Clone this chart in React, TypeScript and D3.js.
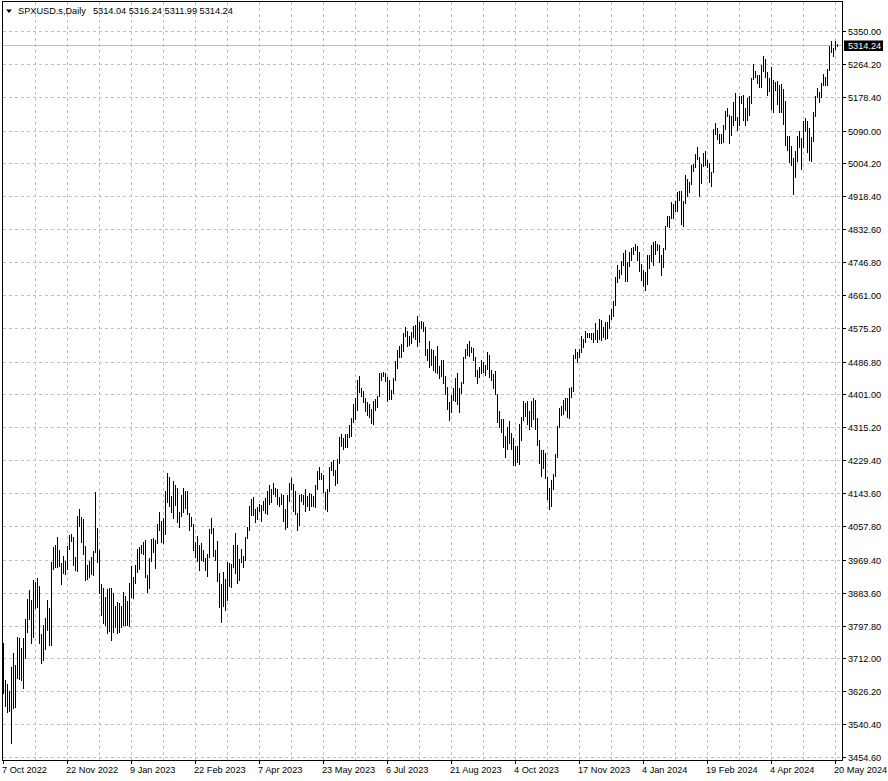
import { useEffect, useRef } from "react"
import * as d3 from "d3"

const WIDTH = 888
const HEIGHT = 781
const FRAME = { left: 2, top: 1, right: 842, bottom: 760 }
const FONT = "'Liberation Sans', Arial, sans-serif"

const symbolTitle = "SPXUSD.s,Daily"
// open, high, low, close of the last bar
const lastBarOHLC = [5314.04, 5316.24, 5311.99, 5314.24]

const priceTicks = [
  5350.0, 5264.2, 5178.4, 5090.0, 5004.2, 4918.4, 4832.6, 4746.8, 4661.0, 4575.2, 4486.8, 4401.0,
  4315.2, 4229.4, 4143.6, 4057.8, 3969.4, 3883.6, 3797.8, 3712.0, 3626.2, 3540.4, 3454.6,
]

const dateLabels = [
  "7 Oct 2022", "22 Nov 2022", "9 Jan 2023", "22 Feb 2023", "7 Apr 2023", "23 May 2023", "6 Jul 2023",
  "21 Aug 2023", "4 Oct 2023", "17 Nov 2023", "4 Jan 2024", "19 Feb 2024", "4 Apr 2024", "20 May 2024",
]

// daily highs, oldest first
const highs = [
  3752, 3656, 3645, 3627, 3690, 3726, 3695, 3768, 3765, 3739,
  3765, 3815, 3867, 3891, 3864, 3917, 3912, 3922, 3901, 3776,
  3799, 3818, 3864, 3844, 3965, 4002, 4008, 4030, 3995, 3962,
  3980, 3966, 4006, 4034, 4038, 4030, 3976, 4083, 4101, 4080,
  4075, 4005, 3957, 3967, 3978, 3992, 4146, 4053, 3995, 3906,
  3896, 3872, 3893, 3896, 3896, 3883, 3849, 3859, 3857, 3849,
  3886, 3875, 3862, 3909, 3953, 3925, 3956, 3997, 4004, 4008,
  4016, 4021, 3930, 3974, 4024, 4026, 4021, 4062, 4095, 4072,
  4078, 4148, 4195, 4185, 4136, 4176, 4165, 4156, 4094, 4138,
  4156, 4149, 4148, 4092, 4082, 4062, 4017, 4032, 4008, 4012,
  3994, 3975, 3985, 4049, 4079, 4052, 3994, 4018, 3935, 3905,
  3937, 3920, 3965, 3962, 3958, 4009, 4039, 4008, 3972, 3998,
  3980, 4030, 4056, 4110, 4128, 4134, 4101, 4108, 4115, 4112,
  4124, 4132, 4150, 4164, 4153, 4170, 4158, 4154, 4134, 4142,
  4138, 4103, 4138, 4170, 4184, 4168, 4148, 4092, 4138, 4142,
  4138, 4154, 4137, 4143, 4141, 4137, 4164, 4202, 4212, 4197,
  4192, 4146, 4154, 4212, 4225, 4231, 4205, 4232, 4290, 4299,
  4288, 4299, 4298, 4322, 4339, 4375, 4391, 4439, 4448, 4418,
  4410, 4392, 4382, 4375, 4362, 4384, 4390, 4398, 4458, 4458,
  4460, 4456, 4446, 4440, 4412, 4443, 4488, 4517, 4528, 4532,
  4562, 4578, 4568, 4555, 4564, 4580, 4582, 4607, 4590, 4594,
  4590, 4577, 4519, 4540, 4519, 4518, 4502, 4527, 4476, 4490,
  4490, 4449, 4421, 4381, 4400, 4419, 4443, 4458, 4418, 4434,
  4500, 4521, 4532, 4541, 4525, 4522, 4498, 4465, 4473, 4490,
  4487, 4479, 4511, 4505, 4466, 4455, 4462, 4402, 4357, 4338,
  4337, 4292, 4317, 4333, 4300, 4288, 4267, 4267, 4324, 4341,
  4385, 4378, 4385, 4357, 4383, 4393, 4387, 4339, 4283, 4255,
  4255, 4248, 4186, 4156, 4177, 4194, 4245, 4319, 4366, 4372,
  4386, 4391, 4393, 4418, 4421, 4503, 4521, 4511, 4521, 4553,
  4547, 4568, 4562, 4562, 4561, 4562, 4587, 4569, 4599, 4595,
  4578, 4591, 4591, 4609, 4623, 4645, 4709, 4738, 4725, 4749,
  4770, 4778, 4748, 4772, 4784, 4785, 4793, 4788, 4772, 4743,
  4727, 4721, 4764, 4765, 4790, 4798, 4803, 4795, 4790, 4766,
  4783, 4842, 4868, 4866, 4903, 4898, 4906, 4929, 4932, 4931,
  4906, 4975, 4963, 4957, 4999, 5002, 5030, 5048, 5022, 5002,
  5032, 5038, 5012, 5006, 4983, 5094, 5111, 5097, 5080, 5080,
  5104, 5140, 5149, 5131, 5127, 5165, 5189, 5125, 5179, 5180,
  5182, 5150, 5175, 5179, 5226, 5265, 5246, 5234, 5236, 5262,
  5284, 5278, 5243, 5228, 5256, 5222, 5216, 5220, 5209, 5211,
  5199, 5168, 5076, 5077, 5049, 5019, 5038, 5076, 5089, 5071,
  5114, 5123, 5116, 5096, 5073, 5139, 5181, 5200, 5191, 5214,
  5239, 5230, 5250, 5311, 5325, 5305, 5325, 5316.24,
]

// daily lows, oldest first
const lows = [
  3622, 3588, 3572, 3575, 3491, 3583, 3585, 3661, 3658, 3656,
  3635, 3713, 3781, 3815, 3752, 3768, 3844, 3846, 3752, 3700,
  3708, 3737, 3786, 3747, 3747, 3946, 3950, 3950, 3952, 3906,
  3935, 3932, 3945, 3998, 4018, 3955, 3944, 3940, 4057, 4015,
  3984, 3918, 3920, 3925, 3932, 3930, 3990, 3965, 3883, 3825,
  3805, 3799, 3778, 3783, 3760, 3781, 3794, 3778, 3781, 3794,
  3799, 3799, 3799, 3797, 3872, 3870, 3909, 3937, 3946, 3988,
  3984, 3925, 3886, 3896, 3966, 3990, 3949, 4012, 4048, 4015,
  4012, 4037, 4120, 4111, 4093, 4079, 4112, 4069, 4055, 4085,
  4095, 4105, 4089, 4047, 4058, 3995, 3976, 3966, 3944, 3970,
  3966, 3943, 3928, 3978, 4040, 3980, 3968, 3914, 3847, 3808,
  3850, 3839, 3864, 3901, 3898, 3950, 3936, 3909, 3917, 3965,
  3951, 3970, 4027, 4048, 4086, 4086, 4069, 4076, 4098, 4072,
  4100, 4091, 4090, 4114, 4120, 4140, 4135, 4114, 4110, 4115,
  4071, 4049, 4055, 4123, 4155, 4098, 4088, 4048, 4060, 4123,
  4116, 4098, 4109, 4099, 4110, 4109, 4108, 4153, 4180, 4180,
  4146, 4103, 4098, 4148, 4205, 4192, 4166, 4171, 4221, 4266,
  4260, 4264, 4264, 4291, 4292, 4330, 4337, 4360, 4407, 4398,
  4382, 4357, 4347, 4341, 4326, 4325, 4360, 4368, 4396, 4440,
  4448, 4436, 4385, 4390, 4389, 4405, 4438, 4470, 4498, 4500,
  4514, 4553, 4527, 4530, 4535, 4550, 4547, 4528, 4537, 4574,
  4567, 4505, 4490, 4474, 4478, 4464, 4461, 4457, 4443, 4450,
  4432, 4403, 4364, 4335, 4355, 4386, 4385, 4375, 4356, 4405,
  4431, 4496, 4505, 4501, 4512, 4492, 4448, 4430, 4446, 4457,
  4459, 4453, 4467, 4447, 4440, 4417, 4401, 4329, 4316, 4303,
  4265, 4238, 4260, 4274, 4260, 4216, 4216, 4225, 4219, 4283,
  4335, 4345, 4325, 4311, 4318, 4337, 4311, 4269, 4223, 4189,
  4210, 4182, 4127, 4103, 4110, 4153, 4187, 4237, 4317, 4347,
  4350, 4360, 4343, 4340, 4394, 4410, 4495, 4487, 4499, 4511,
  4525, 4537, 4551, 4550, 4545, 4537, 4547, 4537, 4546, 4544,
  4552, 4546, 4549, 4574, 4598, 4606, 4634, 4694, 4704, 4715,
  4738, 4697, 4698, 4736, 4752, 4768, 4778, 4751, 4723, 4700,
  4683, 4675, 4690, 4730, 4750, 4740, 4768, 4778, 4748, 4714,
  4735, 4780, 4840, 4838, 4862, 4862, 4881, 4880, 4910, 4845,
  4840, 4900, 4918, 4930, 4950, 4985, 4995, 5016, 4920, 4953,
  4998, 4999, 4995, 4955, 4946, 4982, 5081, 5068, 5057, 5058,
  5061, 5094, 5127, 5057, 5079, 5105, 5117, 5092, 5105, 5161,
  5118, 5104, 5117, 5131, 5161, 5225, 5229, 5214, 5203, 5203,
  5245, 5229, 5184, 5194, 5146, 5138, 5197, 5160, 5138, 5138,
  5107, 5052, 5039, 5007, 5001, 4925, 4969, 5010, 5048, 4990,
  5048, 5089, 5035, 5013, 5011, 5064, 5128, 5178, 5165, 5177,
  5210, 5208, 5209, 5247, 5296, 5284, 5302, 5311.99,
]

const BARS_PER_LABEL = 32
const BARS_PER_GRID = 16

export default function App() {
  const svgRef = useRef<SVGSVGElement>(null)

  useEffect(() => {
    document.body.style.margin = "0"
    if (!svgRef.current) return
    const svg = d3.select(svgRef.current)
    svg.selectAll("*").remove()

    const n = highs.length
    const x = d3.scaleLinear().domain([0, n - 1]).range([3, 3 + 2 * (n - 1)])
    const y = d3
      .scaleLinear()
      .domain([priceTicks[priceTicks.length - 1], priceTicks[0]])
      .range([757, 31])
    const py = (v: number) => Math.round(y(v))

    svg.append("rect").attr("width", WIDTH).attr("height", HEIGHT).attr("fill", "#fff")

    // grid
    const grid = svg.append("g").attr("stroke", "#c0c0c0").attr("stroke-dasharray", "3,3").attr("shape-rendering", "crispEdges")
    priceTicks.forEach((p) => {
      grid.append("line")
        .attr("x1", FRAME.left + 1).attr("x2", FRAME.right)
        .attr("y1", py(p) + 0.5).attr("y2", py(p) + 0.5)
    })
    for (let i = BARS_PER_GRID; i < n; i += BARS_PER_GRID) {
      grid.append("line")
        .attr("x1", x(i) + 0.5).attr("x2", x(i) + 0.5)
        .attr("y1", FRAME.top + 1).attr("y2", FRAME.bottom)
    }

    // bid line
    const lastPrice = lastBarOHLC[3]
    svg.append("line")
      .attr("x1", FRAME.left).attr("x2", FRAME.right)
      .attr("y1", py(lastPrice) + 0.5).attr("y2", py(lastPrice) + 0.5)
      .attr("stroke", "#c0c0c0").attr("shape-rendering", "crispEdges")

    // bars
    svg.append("g")
      .attr("fill", "#000")
      .attr("shape-rendering", "crispEdges")
      .selectAll("rect")
      .data(highs.map((h, i) => ({ h, l: lows[i], i })))
      .join("rect")
      .attr("x", (d) => x(d.i))
      .attr("width", 1)
      .attr("y", (d) => py(d.h))
      .attr("height", (d) => Math.max(1, py(d.l) - py(d.h) + 1))

    // frame
    const frame = svg.append("g").attr("stroke", "#000").attr("shape-rendering", "crispEdges")
    frame.append("line").attr("x1", FRAME.left + 0.5).attr("x2", FRAME.left + 0.5).attr("y1", FRAME.top).attr("y2", FRAME.bottom + 1)
    frame.append("line").attr("x1", FRAME.left).attr("x2", FRAME.right + 1).attr("y1", FRAME.top + 0.5).attr("y2", FRAME.top + 0.5)
    frame.append("line").attr("x1", FRAME.right + 0.5).attr("x2", FRAME.right + 0.5).attr("y1", FRAME.top).attr("y2", FRAME.bottom + 1)
    frame.append("line").attr("x1", FRAME.left).attr("x2", FRAME.right + 1).attr("y1", FRAME.bottom + 0.5).attr("y2", FRAME.bottom + 0.5)

    // price scale
    const priceAxis = svg.append("g").attr("font-family", FONT).attr("font-size", "9.2px")
    priceTicks.forEach((p) => {
      priceAxis.append("line")
        .attr("x1", FRAME.right).attr("x2", FRAME.right + 4)
        .attr("y1", py(p) + 0.5).attr("y2", py(p) + 0.5)
        .attr("stroke", "#000").attr("shape-rendering", "crispEdges")
      priceAxis.append("text").attr("x", 848).attr("y", py(p) + 3.5).attr("fill", "#000").text(p.toFixed(2))
    })
    priceAxis.append("rect")
      .attr("x", FRAME.right + 2).attr("y", py(lastPrice) - 4.5)
      .attr("width", 39).attr("height", 10.5).attr("fill", "#000")
    priceAxis.append("text").attr("x", 848).attr("y", py(lastPrice) + 3.5).attr("fill", "#fff").text(lastPrice.toFixed(2))

    // time scale
    const timeAxis = svg.append("g").attr("font-family", FONT).attr("font-size", "9.2px")
    dateLabels.forEach((label, k) => {
      const bx = x(k * BARS_PER_LABEL)
      timeAxis.append("line")
        .attr("x1", bx + 0.5).attr("x2", bx + 0.5)
        .attr("y1", FRAME.bottom).attr("y2", FRAME.bottom + 4)
        .attr("stroke", "#000").attr("shape-rendering", "crispEdges")
      timeAxis.append("text").attr("x", bx - 1).attr("y", 773).attr("fill", "#000").text(label)
    })

    // title
    svg.append("path").attr("d", "M6,9.5L12,9.5L9,13Z").attr("fill", "#000")
    const title = svg.append("g").attr("font-family", FONT).attr("font-size", "9.2px").attr("fill", "#000")
    title.append("text").attr("x", 18).attr("y", 14).text(symbolTitle)
    title.append("text").attr("x", 93).attr("y", 14).text(lastBarOHLC.map((v) => v.toFixed(2)).join(" "))
  }, [])

  return (
    <svg
      ref={svgRef}
      width={WIDTH}
      height={HEIGHT}
      style={{ position: "absolute", left: 0, top: 0, display: "block" }}
    />
  )
}
